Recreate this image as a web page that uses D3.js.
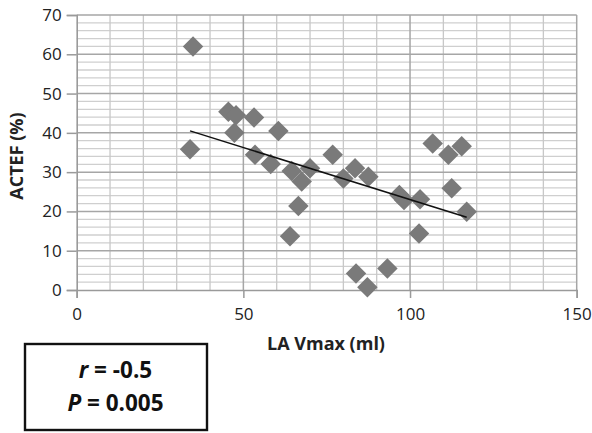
<!DOCTYPE html>
<html><head><meta charset="utf-8">
<script src="https://cdn.jsdelivr.net/npm/d3@7"></script>
<style>body{margin:0;background:#fff}svg{display:block}</style>
</head><body>
<script>
const laVmax = [34.9, 34.0, 45.5, 47.8, 47.3, 53.2, 60.5, 53.5, 58.2, 64.5, 70, 67.5, 66.5, 64, 76.8, 80, 83.5, 87.5, 83.8, 87.2, 93.2, 96.8, 98.2, 103, 102.7, 106.8, 111.5, 115.5, 112.5, 117];
const actef  = [62, 35.8, 45.4, 44.5, 40, 43.9, 40.5, 34.4, 32.1, 30.3, 31, 27.6, 21.4, 13.7, 34.4, 28.4, 31, 28.8, 4.2, 0.7, 5.5, 24.2, 22.9, 23.1, 14.4, 37.3, 34.4, 36.6, 25.9, 19.9];
const trendX = [34, 117];
const trendY = [40.5, 18.5];
const xTicks = [0, 50, 100, 150];
const yTicks = [0, 10, 20, 30, 40, 50, 60, 70];
const statLines = ["r = -0.5", "P = 0.005"];

const W = 592, H = 433;
const svg = d3.select("body").append("svg").attr("width", W).attr("height", H);
const x = d3.scaleLinear().domain([0, 150]).range([76.7, 576.7]);
const y = d3.scaleLinear().domain([0, 70]).range([290, 15]);

const font = "'Open Sans', sans-serif";
const g = svg.append("g");
g.selectAll("line.hmin").data(d3.range(0, 71, 2).filter(v => v % 10 !== 0)).join("line")
  .attr("x1", x(0)).attr("x2", x(150)).attr("y1", d => y(d)).attr("y2", d => y(d))
  .attr("stroke", "#cfcfcf").attr("stroke-width", 1.3);
g.selectAll("line.vmin").data(d3.range(10, 150, 10).filter(v => v % 50 !== 0)).join("line")
  .attr("y1", y(0)).attr("y2", y(70)).attr("x1", d => x(d)).attr("x2", d => x(d))
  .attr("stroke", "#c8c8c8").attr("stroke-width", 1.3);
g.selectAll("line.hmaj").data(yTicks.slice(1)).join("line")
  .attr("x1", x(0)).attr("x2", x(150)).attr("y1", d => y(d)).attr("y2", d => y(d))
  .attr("stroke", "#a6a6a6").attr("stroke-width", 1.5);
g.selectAll("line.vmaj").data(xTicks.slice(1)).join("line")
  .attr("y1", y(0)).attr("y2", y(70)).attr("x1", d => x(d)).attr("x2", d => x(d))
  .attr("stroke", "#a6a6a6").attr("stroke-width", 1.5);

const xAxis = svg.append("g").attr("transform", `translate(0,${y(0)})`)
  .call(d3.axisBottom(x).tickValues(xTicks).tickSize(8).tickPadding(10));
const yAxis = svg.append("g").attr("transform", `translate(${x(0)},0)`)
  .call(d3.axisLeft(y).tickValues(yTicks).tickSize(10).tickPadding(5));
[xAxis, yAxis].forEach(a => {
  a.select(".domain").attr("stroke", "#9a9a9a").attr("stroke-width", 1.6);
  a.selectAll(".tick line").attr("stroke", "#9a9a9a").attr("stroke-width", 1.5);
  a.selectAll(".tick text").attr("font-family", font).attr("font-size", 17).attr("fill", "#222");
});

const pts = laVmax.map((v, i) => [v, actef[i]]);
svg.append("g").selectAll("path").data(pts).join("path")
  .attr("d", d3.symbol().type(d3.symbolSquare).size(210))
  .attr("transform", d => `translate(${x(d[0])},${y(d[1])}) rotate(45)`)
  .attr("fill", "#7a7a7a");

svg.append("line")
  .attr("x1", x(trendX[0])).attr("y1", y(trendY[0]))
  .attr("x2", x(trendX[1])).attr("y2", y(trendY[1]))
  .attr("stroke", "#111").attr("stroke-width", 1.5);

svg.append("text").attr("x", 326).attr("y", 350).attr("text-anchor", "middle")
  .attr("font-family", font).attr("font-weight", "bold").attr("font-size", 18).attr("fill", "#222")
  .text("LA Vmax (ml)");
svg.append("text").attr("transform", "translate(23,156) rotate(-90)").attr("text-anchor", "middle")
  .attr("font-family", font).attr("font-weight", "bold").attr("font-size", 18).attr("fill", "#222")
  .text("ACTEF (%)");

svg.append("rect").attr("x", 25).attr("y", 344).attr("width", 182).attr("height", 86)
  .attr("fill", "#fff").attr("stroke", "#111").attr("stroke-width", 2.4);
statLines.forEach((s, i) => {
  const parts = s.split(" = ");
  const t = svg.append("text").attr("x", 115.5).attr("y", 378 + i * 33).attr("text-anchor", "middle")
    .attr("font-family", font).attr("font-weight", "bold").attr("font-size", 22.5).attr("fill", "#111");
  t.append("tspan").attr("font-style", "italic").text(parts[0]);
  t.append("tspan").text(" = " + parts[1]);
});
</script>
</body></html>
